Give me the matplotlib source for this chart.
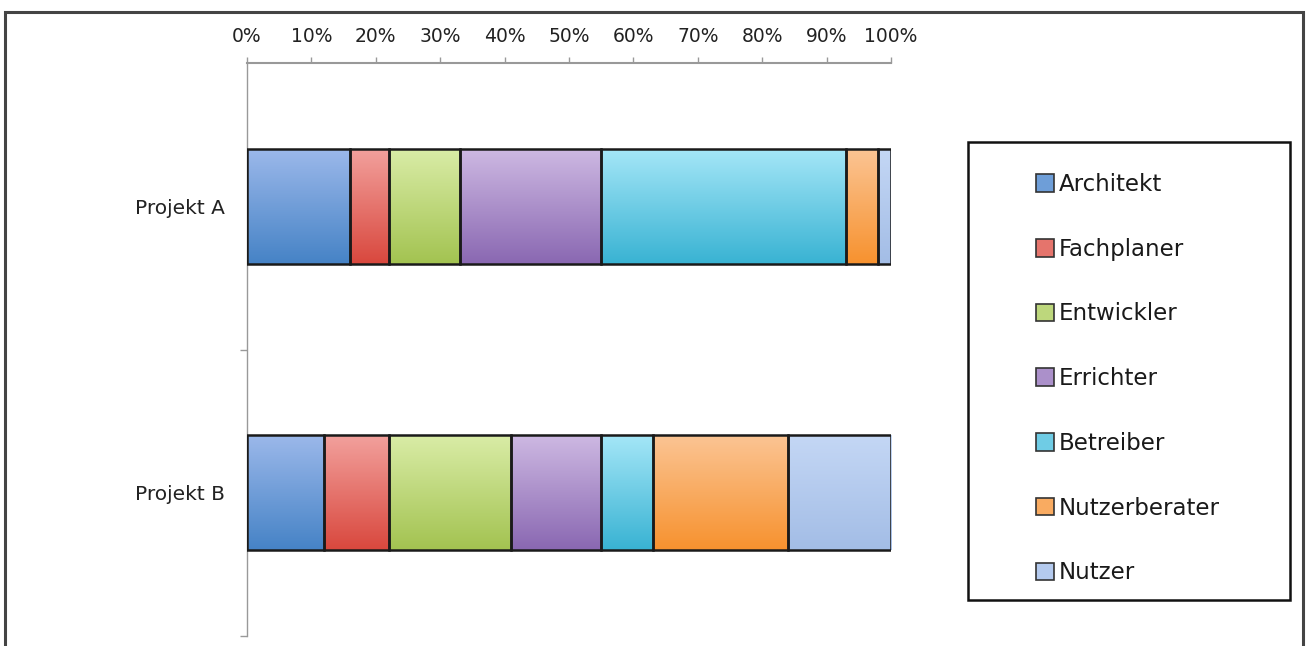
import numpy as np
import matplotlib
matplotlib.use("Agg")
import matplotlib.pyplot as plt
from matplotlib.patches import Patch, Rectangle
from matplotlib.ticker import PercentFormatter
from matplotlib.colors import to_rgb

plt.rcParams['font.family'] = ['DejaVu Sans']

# Anteile je Beteiligtengruppe (Prozent)
projekte = ["Projekt A", "Projekt B"]
gruppen = ["Architekt", "Fachplaner", "Entwickler", "Errichter",
           "Betreiber", "Nutzerberater", "Nutzer"]
architekt = [16, 12]
fachplaner = [6, 10]
entwickler = [11, 19]
errichter = [22, 14]
betreiber = [38, 8]
nutzerberater = [5, 21]
nutzer = [2, 16]
werte = [architekt, fachplaner, entwickler, errichter, betreiber, nutzerberater, nutzer]

# Verlauf hell (oben) -> dunkel (unten), wie Excel 2007
farben_hell = ["#9bb8ea", "#f2a09c", "#d9eca6", "#cdb8e2", "#a4e6f7", "#fbc493", "#c4d7f5"]
farben_dunkel = ["#4683c6", "#d9483e", "#a3c351", "#8a68b2", "#39b3d3", "#f7922f", "#a3bde6"]
farben_mitte = ["#6e9ed8", "#e5746c", "#bdd77c", "#ab90ca", "#6fcce5", "#f9ab61", "#b4caee"]

fig = plt.figure(figsize=(13.08, 6.46), dpi=100)
ax = fig.add_axes([247 / 1308, 1 - 636 / 646, (891 - 247) / 1308, (636 - 63) / 646])

y = np.arange(len(projekte))
hoehe = 0.4
links = np.zeros(len(projekte))
for i, gruppe in enumerate(gruppen):
    bars = ax.barh(y, werte[i], left=links, height=hoehe, color="none",
                   edgecolor="#1a1a1a", linewidth=1.8, zorder=3)
    c1 = np.array(to_rgb(farben_hell[i]))
    c2 = np.array(to_rgb(farben_dunkel[i]))
    t = np.linspace(0, 1, 64)[:, None, None]
    grad = c1 * (1 - t) + c2 * t
    for bar in bars:
        x0, w = bar.get_x(), bar.get_width()
        y0, h = bar.get_y(), bar.get_height()
        im = ax.imshow(grad, extent=(x0, x0 + w, y0 + h, y0), origin="upper",
                       aspect="auto", zorder=2, interpolation="bilinear")
        im.set_clip_path(bar)
    links += np.array(werte[i])

ax.set_xlim(0, 100)
ax.set_ylim(1.5, -0.5)
ax.set_aspect("auto")

ax.xaxis.tick_top()
ax.set_xticks(np.arange(0, 101, 10))
ax.xaxis.set_major_formatter(PercentFormatter(xmax=100, decimals=0))
ax.tick_params(axis="x", direction="out", length=4, width=1, color="#999999",
               pad=8, labelsize=13.5, labelcolor="#222222")

ax.set_yticks([0.5, 1.5])
ax.set_yticklabels(["", ""])
ax.set_yticks(y, minor=True)
ax.set_yticklabels(projekte, minor=True)
ax.tick_params(axis="y", which="major", direction="out", length=5, width=1, color="#999999")
ax.tick_params(axis="y", which="minor", length=0, pad=16, labelsize=14.5, labelcolor="#222222")

for s in ["bottom", "right"]:
    ax.spines[s].set_visible(False)
ax.spines["top"].set_color("#999999")
ax.spines["top"].set_linewidth(1.5)
ax.spines["left"].set_color("#999999")
ax.spines["left"].set_linewidth(1)

# Legende mit Rahmen
fig.patches.append(Rectangle((968 / 1308, 1 - 600 / 646), (1290 - 968) / 1308, (600 - 142) / 646,
                             transform=fig.transFigure, facecolor="white",
                             edgecolor="#111111", linewidth=1.8, zorder=1))
handles = [Patch(facecolor=farben_mitte[i], edgecolor="#333333", linewidth=1.2)
           for i in range(len(gruppen))]
leg = fig.legend(handles, gruppen, loc="upper left",
                 bbox_to_anchor=(1036 / 1308, 1 - 173 / 646), frameon=False,
                 fontsize=16.5, labelspacing=1.82, handlelength=0.8, handleheight=0.8,
                 handletextpad=0.2, borderpad=0, borderaxespad=0)
for txt in leg.get_texts():
    txt.set_color("#1a1a1a")
leg.set_zorder(5)

# äußerer Diagrammrahmen
fig.patches.append(Rectangle((5 / 1308, -0.1), 1298 / 1308, 1.1 - 12 / 646,
                             transform=fig.transFigure, facecolor="none",
                             edgecolor="#444444", linewidth=2.2, zorder=0))

fig.savefig("out.png", dpi=100)
